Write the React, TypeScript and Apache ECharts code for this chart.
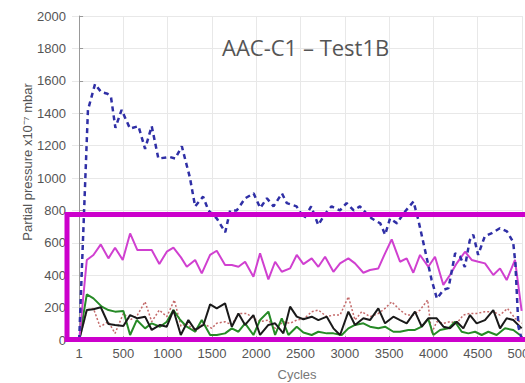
import React, { useEffect, useRef } from "react";
import * as echarts from "echarts";

const xTicks = [1, 500, 1000, 1500, 2000, 2500, 3000, 3500, 4000, 4500, 5000];

const blueCycles = [1, 100, 180, 250, 320, 360, 410, 480, 575, 670, 745, 820, 895, 1020, 1085, 1160, 1250, 1310, 1400, 1460, 1555, 1650, 1705, 1780, 1875, 1970, 2045, 2120, 2195, 2290, 2345, 2455, 2540, 2620, 2700, 2780, 2850, 2945, 3020, 3100, 3170, 3230, 3305, 3400, 3455, 3510, 3590, 3660, 3775, 3830, 3905, 3980, 4040, 4115, 4170, 4245, 4300, 4355, 4410, 4450, 4505, 4580, 4660, 4750, 4830, 4900, 4925, 4960, 5000];
const blueValues = [0, 1420, 1580, 1530, 1520, 1500, 1310, 1420, 1305, 1320, 1180, 1320, 1120, 1130, 1120, 1195, 1005, 825, 885, 800, 750, 665, 800, 800, 875, 905, 815, 875, 825, 905, 845, 825, 750, 825, 710, 780, 825, 800, 845, 800, 825, 790, 750, 720, 650, 750, 720, 780, 855, 740, 555, 370, 255, 310, 320, 535, 515, 450, 615, 650, 525, 640, 660, 690, 670, 605, 475, 80, 0];

const magentaCycles = [1, 87, 162, 245, 331, 406, 493, 576, 658, 745, 820, 906, 990, 1065, 1150, 1216, 1310, 1385, 1479, 1554, 1648, 1724, 1799, 1874, 1968, 2043, 2137, 2213, 2288, 2382, 2457, 2532, 2626, 2701, 2777, 2871, 2946, 3040, 3115, 3209, 3284, 3378, 3454, 3529, 3623, 3698, 3773, 3849, 3942, 4018, 4112, 4187, 4263, 4357, 4432, 4507, 4582, 4676, 4752, 4827, 4921, 4996];
const magentaValues = [0, 494, 525, 590, 504, 570, 494, 658, 555, 555, 555, 469, 545, 570, 510, 452, 494, 411, 525, 551, 463, 463, 452, 483, 391, 535, 374, 483, 421, 442, 525, 468, 504, 452, 514, 421, 473, 504, 473, 415, 432, 442, 535, 621, 483, 504, 415, 525, 452, 514, 340, 401, 473, 545, 494, 483, 473, 401, 442, 370, 494, 180];

const greenCycles = [1, 87, 162, 256, 331, 406, 500, 576, 651, 745, 820, 914, 990, 1065, 1140, 1216, 1310, 1385, 1479, 1554, 1648, 1724, 1799, 1874, 1968, 2043, 2137, 2213, 2288, 2363, 2457, 2532, 2626, 2701, 2796, 2871, 2965, 3040, 3115, 3209, 3284, 3378, 3454, 3548, 3623, 3717, 3792, 3868, 3942, 3999, 4075, 4169, 4244, 4319, 4394, 4470, 4545, 4620, 4714, 4808, 4902, 4977];
const greenValues = [0, 282, 257, 206, 185, 175, 179, 31, 123, 72, 103, 82, 113, 185, 125, 82, 51, 123, 31, 31, 41, 72, 51, 103, 31, 123, 175, 31, 134, 31, 82, 46, 31, 51, 41, 41, 31, 72, 93, 103, 82, 72, 82, 51, 51, 62, 62, 82, 130, 31, 62, 72, 113, 51, 41, 51, 31, 51, 31, 72, 62, 31];

const blackCycles = [1, 87, 162, 245, 331, 406, 500, 576, 658, 745, 820, 914, 990, 1065, 1148, 1234, 1310, 1404, 1479, 1554, 1648, 1724, 1799, 1874, 1968, 2043, 2137, 2213, 2306, 2382, 2457, 2532, 2626, 2701, 2796, 2871, 2946, 3040, 3115, 3209, 3284, 3378, 3454, 3548, 3623, 3698, 3792, 3868, 3942, 4037, 4113, 4187, 4263, 4338, 4413, 4488, 4582, 4676, 4752, 4827, 4902, 4996];
const blackValues = [0, 185, 190, 202, 99, 93, 86, 154, 134, 144, 62, 93, 82, 185, 31, 123, 62, 93, 220, 195, 226, 82, 164, 93, 154, 31, 93, 103, 41, 206, 144, 128, 144, 123, 144, 72, 31, 175, 93, 134, 123, 195, 103, 144, 123, 103, 175, 82, 134, 134, 82, 72, 113, 72, 154, 103, 123, 185, 72, 134, 123, 72];

const redCycles = [1, 87, 162, 237, 331, 406, 500, 576, 658, 745, 820, 906, 990, 1075, 1150, 1216, 1310, 1404, 1498, 1554, 1648, 1724, 1799, 1893, 1968, 2043, 2137, 2213, 2306, 2382, 2457, 2545, 2626, 2701, 2796, 2871, 2946, 3040, 3115, 3191, 3284, 3378, 3454, 3529, 3623, 3698, 3773, 3849, 3935, 3980, 4037, 4113, 4187, 4263, 4338, 4413, 4488, 4582, 4676, 4752, 4836, 4921, 4996];
const redValues = [0, 185, 195, 82, 113, 41, 164, 123, 154, 236, 113, 185, 144, 247, 85, 103, 51, 103, 72, 103, 113, 93, 164, 164, 134, 113, 123, 72, 113, 103, 123, 134, 175, 185, 144, 154, 154, 267, 123, 175, 144, 164, 195, 236, 185, 154, 154, 185, 247, 41, 113, 103, 113, 103, 154, 164, 164, 175, 175, 154, 195, 134, 103];

const pairs = (xs: number[], ys: number[]) => xs.map((x, i) => [x, ys[i]]);

export default function App() {
  const ref = useRef<HTMLDivElement>(null);
  useEffect(() => {
    if (!ref.current) return;
    const chart = echarts.init(ref.current, null, { renderer: "svg" });
    const font = "Liberation Sans";
    chart.setOption({
      animation: false,
      backgroundColor: "#ffffff",
      textStyle: { fontFamily: font },
      grid: { left: 72, top: 16, right: 3, bottom: 43, containLabel: false, outerBoundsMode: "none" },
      xAxis: {
        type: "value",
        min: -80,
        max: 5000,
        name: "Cycles",
        nameLocation: "middle",
        nameGap: 28,
        nameTextStyle: { fontSize: 13, color: "#777", fontFamily: font },
        axisLine: { show: true, lineStyle: { color: "#999" } },
        axisTick: { show: true, inside: true, length: 4, lineStyle: { color: "#999" }, customValues: xTicks },
        axisLabel: {
          color: "#555",
          fontSize: 13,
          margin: 7,
          customValues: xTicks,
          fontFamily: font,
          hideOverlap: false,
          formatter: (v: number) => String(v),
        },
        splitLine: { show: true, lineStyle: { color: "#e8e8e8", width: 1 } },
      },
      yAxis: {
        type: "value",
        min: 0,
        max: 2000,
        interval: 200,
        axisLine: { show: true, lineStyle: { color: "#999" } },
        axisTick: { show: true, inside: true, length: 4, lineStyle: { color: "#999" } },
        axisLabel: { color: "#555", fontSize: 13, margin: 6, fontFamily: font, formatter: (v: number) => String(v) },
        splitLine: { show: true, lineStyle: { color: "#e8e8e8", width: 1 } },
      },
      series: [
        {
          type: "line",
          data: pairs(redCycles, redValues),
          showSymbol: false,
          lineStyle: { color: "#c46a6a", width: 1.5, type: [2, 2] },
          z: 2,
        },
        {
          type: "line",
          data: pairs(greenCycles, greenValues),
          showSymbol: false,
          lineStyle: { color: "#268a26", width: 2 },
          z: 3,
        },
        {
          type: "line",
          data: pairs(blackCycles, blackValues),
          showSymbol: false,
          lineStyle: { color: "#1a1a1a", width: 2 },
          z: 4,
        },
        {
          type: "line",
          data: pairs(magentaCycles, magentaValues),
          showSymbol: false,
          lineStyle: { color: "#d040d0", width: 2 },
          z: 5,
        },
        {
          type: "line",
          data: pairs(blueCycles, blueValues),
          showSymbol: false,
          lineStyle: { color: "#2f2fa6", width: 2.5, type: [5, 4] },
          z: 6,
        },
      ],
      graphic: [
        {
          type: "text",
          left: 222,
          top: 36,
          z: 10,
          style: { text: "AAC-C1 – Test1B", fontSize: 22, fontFamily: "Open Sans", fill: "#555" },
        },
        {
          type: "text",
          x: 27,
          y: 162,
          rotation: Math.PI / 2,
          z: 10,
          style: {
            text: "Partial pressure x10⁻⁷ mbar",
            fontSize: 13,
            fontFamily: font,
            fill: "#555",
            align: "center",
            verticalAlign: "middle",
          },
        },
        {
          type: "rect",
          z: 20,
          shape: { x: 67, y: 214.5, width: 480, height: 125 },
          style: { fill: "none", stroke: "#cc00cc", lineWidth: 5 },
        },
      ],
    });
    return () => chart.dispose();
  }, []);
  return (
    <div style={{ position: "fixed", left: 0, top: 0, width: 525, height: 383, overflow: "hidden", background: "#fff" }}>
      <div ref={ref} style={{ width: 525, height: 383 }} />
    </div>
  );
}
